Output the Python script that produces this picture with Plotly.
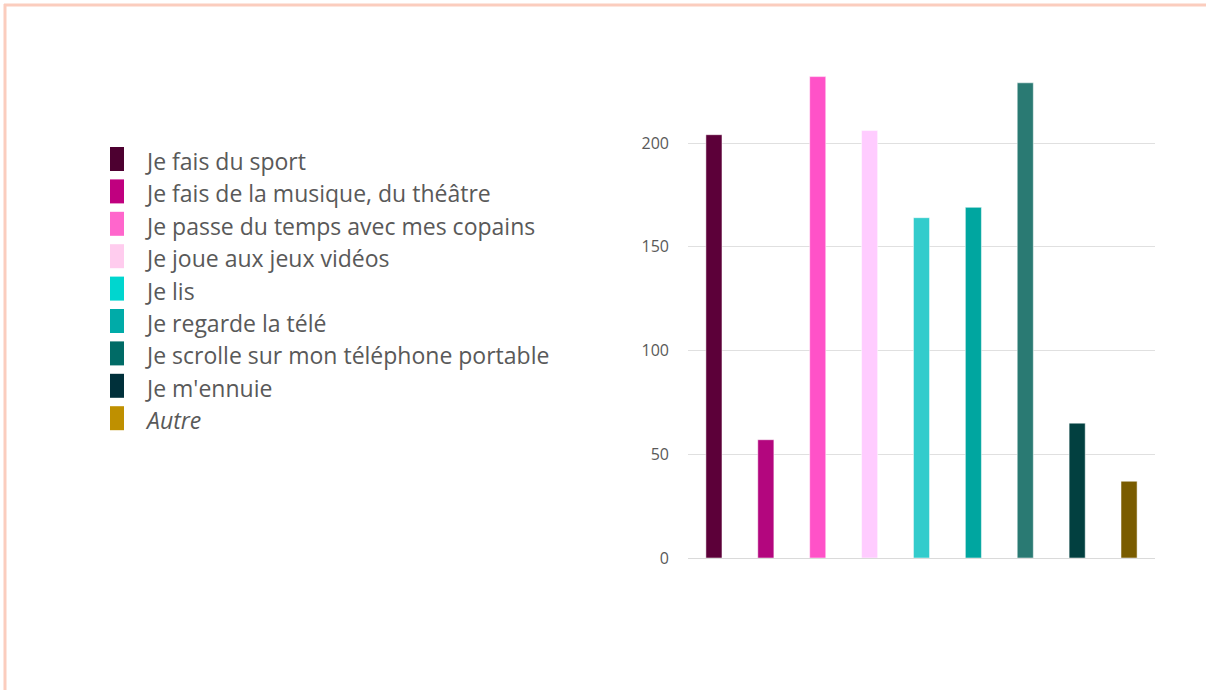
import plotly.graph_objects as go

# activites et nombre de reponses
activites = [
    "Je fais du sport",
    "Je fais de la musique, du théâtre",
    "Je passe du temps avec mes copains",
    "Je joue aux jeux vidéos",
    "Je lis",
    "Je regarde la télé",
    "Je scrolle sur mon téléphone portable",
    "Je m'ennuie",
    "Autre",
]
reponses = [204, 57, 232, 206, 164, 169, 229, 65, 37]

bar_colors = ['#5C0039', '#B3067E', '#FF52C8', '#FFCCFF', '#33CCCC',
              '#00A6A0', '#2A7A73', '#024040', '#7A5C00']
legend_colors = ['#4D0030', '#C0007F', '#FF66CC', '#FFCCEE', '#00D6CF',
                 '#00ABA8', '#006B66', '#00303A', '#BF9000']

W, H = 1206, 690
L, R, T, B = 688, 51, 60, 132
pw, ph = W - L - R, H - T - B


def px_x(x):
    return (x - L) / pw


def px_y(y):
    return (H - B - y) / ph


fig = go.Figure()
fig.add_trace(go.Bar(
    x=activites,
    y=reponses,
    marker=dict(color=bar_colors, line=dict(color='rgba(255,255,255,0.5)', width=1)),
    showlegend=False,
    hoverinfo='skip',
))

shapes = []
annotations = []
# legende faite a la main (rectangles hauts + texte)
for i, (label, col) in enumerate(zip(activites, legend_colors)):
    top = 147 + 32.4 * i
    shapes.append(dict(
        type='rect', xref='paper', yref='paper',
        x0=px_x(110), x1=px_x(124), y0=px_y(top + 24), y1=px_y(top),
        fillcolor=col, line=dict(width=0), layer='above',
    ))
    annotations.append(dict(
        x=px_x(143), y=px_y(top + 14), xref='paper', yref='paper',
        text=f"<i>{label}</i>" if label == "Autre" else label,
        showarrow=False, xanchor='left', yanchor='middle',
        font=dict(family='Open Sans, Noto Sans, sans-serif', size=23, color='#595959'),
    ))

# cadre saumon
shapes.append(dict(type='line', xref='paper', yref='paper',
                   x0=px_x(4), x1=px_x(W), y0=px_y(5), y1=px_y(5),
                   line=dict(color='#FBCDBE', width=3)))
shapes.append(dict(type='line', xref='paper', yref='paper',
                   x0=px_x(5), x1=px_x(5), y0=px_y(4), y1=px_y(H),
                   line=dict(color='#FBCDBE', width=3)))

fig.update_layout(
    width=W, height=H,
    margin=dict(l=L, r=R, t=T, b=B),
    paper_bgcolor='white',
    plot_bgcolor='white',
    bargap=0.69,
    shapes=shapes,
    annotations=annotations,
    font=dict(family='Open Sans, Noto Sans, sans-serif', color='#595959'),
    xaxis=dict(showticklabels=False, showgrid=False, zeroline=False,
               showline=False, ticks=''),
    yaxis=dict(range=[0, 240], tickvals=[0, 50, 100, 150, 200],
               showgrid=True, gridcolor='#E0E0E0', gridwidth=1,
               zeroline=True, zerolinecolor='#DADADA', zerolinewidth=1,
               tickfont=dict(size=16, color='#595959'),
               ticklabelstandoff=18),
)

fig.write_html("out.html", config={'displayModeBar': False},
               post_script="document.body.style.margin='0';")
